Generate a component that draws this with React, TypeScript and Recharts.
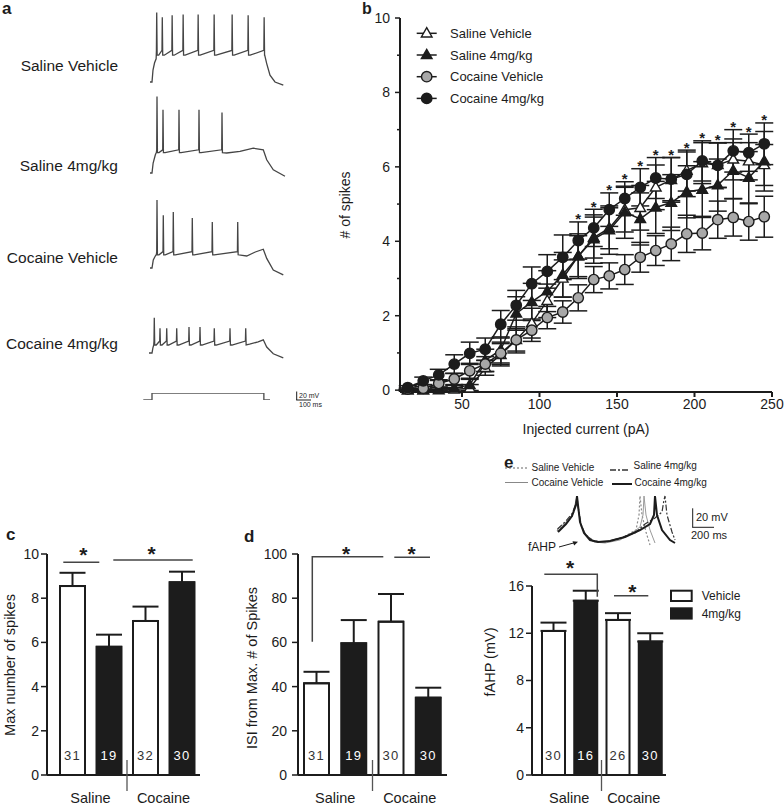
import React from 'react';
import {
  ComposedChart,
  LineChart,
  BarChart,
  Line,
  Bar,
  Cell,
  XAxis,
  YAxis,
  ErrorBar,
  LabelList,
} from 'recharts';

const FONT = '"Liberation Sans", Arial, Helvetica, sans-serif';
const INK = '#1c1c1c';
const GRAY = '#a8a8a8';
const TRACE = '#454545';

// ---------------- Panel b data ----------------
const currents = [15, 25, 35, 45, 55, 65, 75, 85, 95, 105, 115, 125, 135, 145, 155, 165, 175, 185, 195, 205, 215, 225, 235, 245];
const salineVeh = [0, 0, 0, 0.02, 0.05, 0.6, 0.95, 1.35, 1.8, 2.4, 3.0, 3.6, 4.1, 4.35, 4.85, 4.9, 5.45, 5.65, 5.9, 6.1, 6.05, 6.2, 6.15, 6.05];
const salineVehErr = [0.02, 0.02, 0.03, 0.05, 0.1, 0.2, 0.3, 0.35, 0.4, 0.45, 0.5, 0.55, 0.55, 0.55, 0.6, 0.6, 0.6, 0.6, 0.55, 0.55, 0.6, 0.55, 0.5, 0.55];
const saline4 = [0, 0, 0.03, 0.05, 0.14, 0.8, 1.08, 2.06, 2.37, 2.66, 3.1, 3.6, 4.06, 4.3, 4.78, 4.6, 4.91, 5.04, 5.33, 5.39, 5.51, 5.9, 5.71, 6.15];
const saline4Err = [0.02, 0.03, 0.05, 0.08, 0.15, 0.3, 0.35, 0.45, 0.5, 0.55, 0.6, 0.6, 0.65, 0.65, 0.7, 0.7, 0.7, 0.75, 0.7, 0.75, 0.7, 0.75, 0.7, 0.8];
const cocaineVeh = [0.03, 0.05, 0.18, 0.3, 0.52, 0.7, 0.99, 1.35, 1.61, 1.95, 2.1, 2.48, 2.97, 3.07, 3.24, 3.57, 3.75, 3.93, 4.2, 4.22, 4.58, 4.64, 4.53, 4.66];
const cocaineVehErr = [0.03, 0.05, 0.1, 0.15, 0.2, 0.2, 0.3, 0.3, 0.3, 0.3, 0.3, 0.35, 0.35, 0.35, 0.4, 0.4, 0.4, 0.45, 0.5, 0.45, 0.5, 0.5, 0.5, 0.55];
const cocaine4 = [0.07, 0.25, 0.41, 0.7, 0.99, 1.1, 1.77, 2.28, 2.86, 3.19, 3.57, 4.02, 4.36, 4.85, 5.15, 5.45, 5.7, 5.67, 5.8, 6.16, 6.04, 6.43, 6.38, 6.62];
const cocaine4Err = [0.05, 0.1, 0.15, 0.25, 0.3, 0.3, 0.37, 0.4, 0.45, 0.45, 0.6, 0.5, 0.5, 0.45, 0.45, 0.5, 0.55, 0.58, 0.6, 0.54, 0.6, 0.57, 0.5, 0.56];
const starCurrents = [125, 135, 145, 155, 165, 175, 185, 195, 205, 215, 225, 235, 245];
const bTicksY = [0, 1, 2, 3, 4, 5, 6, 7, 8, 9, 10];
const bTicksX = [50, 100, 150, 200, 250];
const seriesNames = ['Saline Vehicle', 'Saline 4mg/kg', 'Cocaine Vehicle', 'Cocaine 4mg/kg'];

// ---------------- Panels c, d, e data ----------------
const groups = ['Saline Vehicle', 'Saline 4mg/kg', 'Cocaine Vehicle', 'Cocaine 4mg/kg'];
const groupLabels = ['Saline', 'Cocaine'];
const maxSpikes = [8.55, 5.8, 6.97, 8.72];
const maxSpikesErr = [0.6, 0.55, 0.65, 0.48];
const maxSpikesN = [31, 19, 32, 30];
const isiValues = [41.5, 59.6, 69.4, 35];
const isiErr = [5.2, 10.5, 12.5, 4.5];
const isiN = [31, 19, 30, 30];
const fahpValues = [12.2, 14.75, 13.13, 11.3];
const fahpErr = [0.7, 0.85, 0.57, 0.7];
const fahpN = [30, 16, 26, 30];
const treatmentLegend = ['Vehicle', '4mg/kg'];

// ---------------- Panel a traces (time ms, voltage mV) ----------------
const t1Head = [[63, -70], [77, -70], [84, -40], [95, -22], [106, -12]];
const t1Spikes = [110, 149, 218, 295, 400, 512, 638, 750, 862];
const t1Peaks = [104, 92, 97, 99, 99, 99, 99, 97, 92];
const t1Trough = -3;
const t1Ramp = 9;
const t1Tail = [[866, -3], [880, -24], [903, -53], [938, -70], [996, -78]];

const t2Head = [[63, -70], [77, -70], [85, -45], [100, -25], [108, -18]];
const t2Spikes = [112, 154, 266, 406, 567];
const t2Peaks = [121, 88, 88, 88, 81];
const t2Trough = -19;
const t2Ramp = -12;
const t2Tail = [[600, -20], [693, -16], [786, -8], [856, -12], [880, -37], [926, -62], [1008, -78]];

const t3Head = [[63, -70], [77, -70], [86, -50], [100, -40], [108, -36]];
const t3Spikes = [112, 156, 226, 359, 499, 677];
const t3Peaks = [100, 62, 70, 55, 45, 45];
const t3Trough = -37;
const t3Ramp = -29;
const t3Tail = [[740, -40], [800, -30], [856, -23], [880, -46], [926, -75], [996, -87]];

const t4Head = [[56, -70], [77, -70], [83, -58], [89, -50]];
const t4Spikes = [93, 133, 180, 250, 336, 413, 513, 623, 733];
const t4Peaks = [18, -8, -8, -8, -5, -5, -8, -8, -8];
const t4Trough = -50;
const t4Ramp = -40;
const t4Tail = [[760, -48], [820, -42], [856, -37], [880, -55], [926, -72], [996, -82]];

const stepCommand = [[16, 0], [77, 0], [77, 1], [860, 1], [860, 0], [903, 0]];

// ---------------- Panel e traces (time ms, voltage mV) ----------------
const eCoc4 = [[30, -54], [110, -46], [170, -38], [210, -27], [220, -18], [230, -27], [250, -44], [290, -55], [350, -62], [430, -64], [550, -63], [700, -59], [850, -52], [950, -46], [990, -37], [1000, -18], [1020, -37], [1070, -52], [1150, -62], [1200, -65]];
const eCocVeh = [[20, -52], [110, -44], [180, -36], [210, -22], [220, -18], [230, -30], [260, -48], [310, -58], [390, -64], [500, -65], [650, -62], [770, -55], [850, -49], [880, -37], [890, -18], [910, -37], [950, -52], [1000, -65]];
const eSalVeh = [[20, -53], [110, -45], [180, -37], [210, -24], [220, -18], [230, -30], [260, -47], [310, -57], [390, -63], [500, -64], [650, -61], [810, -52], [840, -37], [850, -18], [870, -37], [910, -54], [950, -67]];
const eSal4 = [[25, -51], [110, -43], [175, -35], [210, -25], [220, -18], [230, -28], [260, -46], [300, -56], [380, -63], [500, -64], [650, -60], [800, -55], [900, -46], [1000, -40], [1070, -34], [1090, -22], [1100, -18], [1120, -37], [1170, -54], [1200, -62]];

type Pt = { t: number; v: number };
const toPts = (arr: number[][]): Pt[] => arr.map(([t, v]) => ({ t, v }));

function buildTrace(head: number[][], spikes: number[], peaks: number[], trough: number, ramp: number, tail: number[][]): Pt[] {
  const pts: Pt[] = toPts(head);
  spikes.forEach((s, i) => {
    pts.push({ t: s - 2, v: ramp });
    pts.push({ t: s, v: peaks[i] });
    pts.push({ t: s + 3, v: trough });
    const next = spikes[i + 1];
    if (next !== undefined && next - s > 24) pts.push({ t: s + 14, v: trough });
  });
  return pts.concat(toPts(tail));
}

const traces = [
  { label: seriesNames[0], top: 3.7, data: buildTrace(t1Head, t1Spikes, t1Peaks, t1Trough, t1Ramp, t1Tail), labelY: 70.5 },
  { label: seriesNames[1], top: 95.3, data: buildTrace(t2Head, t2Spikes, t2Peaks, t2Trough, t2Ramp, t2Tail), labelY: 170.5 },
  { label: seriesNames[2], top: 190, data: buildTrace(t3Head, t3Spikes, t3Peaks, t3Trough, t3Ramp, t3Tail), labelY: 262.5 },
  { label: seriesNames[3], top: 275, data: buildTrace(t4Head, t4Spikes, t4Peaks, t4Trough, t4Ramp, t4Tail), labelY: 349 },
];

// ---------------- Panel b table ----------------
const bData = currents.map((x, i) => {
  const starred = starCurrents.includes(x);
  const top = Math.max(
    salineVeh[i] + salineVehErr[i],
    saline4[i] + saline4Err[i],
    cocaineVeh[i] + cocaineVehErr[i],
    cocaine4[i] + cocaine4Err[i]
  );
  return {
    x,
    sv: salineVeh[i], svE: salineVehErr[i],
    s4: saline4[i], s4E: saline4Err[i],
    cv: cocaineVeh[i], cvE: cocaineVehErr[i],
    c4: cocaine4[i], c4E: cocaine4Err[i],
    star: starred ? top : null,
  };
});

// ---------------- Shapes ----------------
const triPath = (cx: number, cy: number, s = 5.6) =>
  `M${cx},${cy - s} L${cx + s * 0.95},${cy + s * 0.65} L${cx - s * 0.95},${cy + s * 0.65} Z`;

const makeTri = (fill: string, tag: string) => (p: any) => {
  const { cx, cy, index } = p;
  if (cx == null || cy == null || isNaN(cy)) return <g key={`${tag}${index}`} />;
  return <path key={`${tag}${index}`} d={triPath(cx, cy)} fill={fill} stroke={INK} strokeWidth={1.4} />;
};
const makeCirc = (fill: string, tag: string) => (p: any) => {
  const { cx, cy, index } = p;
  if (cx == null || cy == null || isNaN(cy)) return <g key={`${tag}${index}`} />;
  return <circle key={`${tag}${index}`} cx={cx} cy={cy} r={5.2} fill={fill} stroke={INK} strokeWidth={1.4} />;
};
const starDot = (p: any) => {
  const { cx, cy, index } = p;
  if (cx == null || cy == null || isNaN(cy)) return <g key={`st${index}`} />;
  return (
    <text key={`st${index}`} x={cx} y={cy - 6 + 8.5} textAnchor="middle" fontSize={15} fontWeight="bold" fill={INK}>
      *
    </text>
  );
};

const BYTick = (p: any) => {
  const { x, y, payload } = p;
  const ax = x + 10;
  const v = payload.value;
  const major = v % 2 === 0;
  return (
    <g>
      <line x1={ax - (major ? 5 : 3)} x2={ax} y1={y} y2={y} stroke={INK} strokeWidth={1.5} />
      {major && (
        <text x={x} y={y} dy="0.36em" textAnchor="end" fontSize={14} fill={INK}>
          {v}
        </text>
      )}
    </g>
  );
};

const GroupTick = (p: any) => {
  const { x, y, index, half } = p;
  if (index === 0 || index === 2) {
    return (
      <text x={x + half} y={y + 28} textAnchor="middle" fontSize={14.5} fill={INK}>
        {groupLabels[index / 2]}
      </text>
    );
  }
  if (index === 1) {
    return <line x1={x + half} x2={x + half} y1={y - 15} y2={y + 16} stroke="#555" strokeWidth={1.3} />;
  }
  return <g />;
};

const NLabel = (p: any) => {
  const { x, y, width, height, value, index } = p;
  return (
    <text
      x={Number(x) + Number(width) / 2}
      y={Number(y) + Number(height) - 15}
      textAnchor="middle"
      fontSize={13}
      letterSpacing={1.2}
      fill={index % 2 === 1 ? '#ffffff' : '#333'}
    >
      {value}
    </text>
  );
};

type BarPanelProps = {
  left: number; top: number; width: number; yWidth: number; marginTop: number; marginRight: number;
  padLeft: number; values: number[]; errs: number[]; ns: number[]; domain: number[]; ticks: number[];
  barSize: number; tickMargin: number;
};

function BarPanel(props: BarPanelProps) {
  const { left, top, width, yWidth, marginTop, marginRight, padLeft, values, errs, ns, domain, ticks, barSize, tickMargin } = props;
  const data = groups.map((g, i) => ({ g, v: values[i], e: [0, errs[i]], n: ns[i] }));
  const plotW = width - yWidth - marginRight - padLeft;
  const half = plotW / 8;
  return (
    <div style={{ position: 'absolute', left, top }}>
      <BarChart width={width} height={280} data={data} margin={{ top: marginTop, right: marginRight, bottom: 0, left: 0 }}>
        <XAxis
          dataKey="g"
          height={35}
          padding={{ left: padLeft, right: 0 }}
          axisLine={{ stroke: INK, strokeWidth: 2 }}
          tickLine={false}
          tickSize={0}
          tickMargin={0}
          interval={0}
          tick={(p: any) => <GroupTick {...p} half={half} />}
        />
        <YAxis
          type="number"
          domain={domain}
          ticks={ticks}
          width={yWidth}
          interval={0}
          tickSize={6}
          tickMargin={tickMargin}
          axisLine={{ stroke: INK, strokeWidth: 2 }}
          tickLine={{ stroke: INK, strokeWidth: 1.5 }}
          tick={{ fill: INK, fontSize: 14 }}
        />
        <Bar dataKey="v" barSize={barSize} stroke={INK} strokeWidth={2} isAnimationActive={false}>
          {data.map((d, i) => (
            <Cell key={d.g} fill={i % 2 === 0 ? '#ffffff' : INK} />
          ))}
          <ErrorBar dataKey="e" width={13} stroke={INK} strokeWidth={2} direction="y" />
          <LabelList dataKey="n" content={NLabel} />
        </Bar>
      </BarChart>
    </div>
  );
}

const Star = ({ x, y, size = 21 }: { x: number; y: number; size?: number }) => (
  <text x={x} y={y + size * 0.55} textAnchor="middle" fontSize={size} fontWeight="bold" fill={INK}>
    *
  </text>
);

const VText = ({ x, y, children, size = 14.5 }: any) => (
  <text transform={`translate(${x},${y}) rotate(-90)`} textAnchor="middle" dy="0.36em" fontSize={size} fill={INK}>
    {children}
  </text>
);

export default function App() {
  const sig = '#444';
  return (
    <div
      style={{
        position: 'absolute', left: 0, top: 0, width: 784, height: 808, background: '#fff',
        fontFamily: FONT, overflow: 'hidden',
      }}
    >
      {/* Panel a traces */}
      {traces.map((tr) => (
        <div key={tr.label} style={{ position: 'absolute', left: 141, top: tr.top }}>
          <LineChart width={150} height={88} margin={{ top: 0, right: 0, bottom: 0, left: 0 }}>
            <XAxis type="number" dataKey="t" domain={[0, 1050]} hide />
            <YAxis type="number" domain={[-95, 125]} hide />
            <Line data={tr.data} dataKey="v" stroke={TRACE} strokeWidth={1.3} dot={false} isAnimationActive={false} />
          </LineChart>
        </div>
      ))}
      <div style={{ position: 'absolute', left: 141, top: 393 }}>
        <LineChart width={150} height={7} margin={{ top: 0, right: 0, bottom: 0, left: 0 }}>
          <XAxis type="number" dataKey="t" domain={[0, 1050]} hide />
          <YAxis type="number" domain={[0, 1]} hide />
          <Line data={toPts(stepCommand)} dataKey="v" stroke="#555" strokeWidth={1.4} dot={false} isAnimationActive={false} />
        </LineChart>
      </div>

      {/* Panel b */}
      <div style={{ position: 'absolute', left: 330, top: 0 }}>
        <ComposedChart width={454} height={450} data={bData} margin={{ top: 18, right: 12, bottom: 0, left: 0 }}>
          <XAxis
            type="number"
            dataKey="x"
            domain={[10, 250]}
            ticks={bTicksX}
            interval={0}
            height={58}
            tickSize={5}
            tickMargin={2}
            axisLine={{ stroke: INK, strokeWidth: 2 }}
            tickLine={{ stroke: INK, strokeWidth: 2 }}
            tick={{ fill: INK, fontSize: 14 }}
            label={{ value: 'Injected current (pA)', position: 'insideBottom', offset: 16, fill: INK, fontSize: 14 }}
          />
          <YAxis
            type="number"
            domain={[0, 10]}
            ticks={bTicksY}
            interval={0}
            width={70}
            tickSize={5}
            tickMargin={5}
            tickLine={false}
            axisLine={{ stroke: INK, strokeWidth: 2 }}
            tick={(p: any) => <BYTick {...p} />}
          />
          <Line dataKey="sv" name={seriesNames[0]} stroke={INK} strokeWidth={1.5} dot={makeTri('#ffffff', 'sv')} activeDot={false} isAnimationActive={false}>
            <ErrorBar dataKey="svE" width={9} stroke={INK} strokeWidth={1.5} direction="y" />
          </Line>
          <Line dataKey="s4" name={seriesNames[1]} stroke={INK} strokeWidth={1.5} dot={makeTri(INK, 's4')} activeDot={false} isAnimationActive={false}>
            <ErrorBar dataKey="s4E" width={9} stroke={INK} strokeWidth={1.5} direction="y" />
          </Line>
          <Line dataKey="cv" name={seriesNames[2]} stroke={INK} strokeWidth={1.5} dot={makeCirc(GRAY, 'cv')} activeDot={false} isAnimationActive={false}>
            <ErrorBar dataKey="cvE" width={9} stroke={INK} strokeWidth={1.5} direction="y" />
          </Line>
          <Line dataKey="c4" name={seriesNames[3]} stroke={INK} strokeWidth={1.5} dot={makeCirc(INK, 'c4')} activeDot={false} isAnimationActive={false}>
            <ErrorBar dataKey="c4E" width={9} stroke={INK} strokeWidth={1.5} direction="y" />
          </Line>
          <Line dataKey="star" stroke="none" dot={starDot} activeDot={false} isAnimationActive={false} legendType="none" />
        </ComposedChart>
      </div>

      {/* Panel c */}
      <BarPanel left={0} top={530} width={215} yWidth={47} marginTop={24} marginRight={15} padLeft={7}
        values={maxSpikes} errs={maxSpikesErr} ns={maxSpikesN} domain={[0, 10]} ticks={[0, 2, 4, 6, 8, 10]} barSize={25} tickMargin={2} />
      {/* Panel d */}
      <BarPanel left={250} top={530} width={210} yWidth={48} marginTop={24} marginRight={13} padLeft={0}
        values={isiValues} errs={isiErr} ns={isiN} domain={[0, 100]} ticks={[0, 20, 40, 60, 80, 100]} barSize={25} tickMargin={5} />
      {/* Panel e bars */}
      <BarPanel left={480} top={530} width={200} yWidth={52} marginTop={56} marginRight={14} padLeft={5}
        values={fahpValues} errs={fahpErr} ns={fahpN} domain={[0, 16]} ticks={[0, 4, 8, 12, 16]} barSize={23} tickMargin={2} />

      {/* Panel e traces */}
      <div style={{ position: 'absolute', left: 555, top: 490 }}>
        <LineChart width={140} height={60} margin={{ top: 0, right: 0, bottom: 0, left: 0 }}>
          <XAxis type="number" dataKey="t" domain={[0, 1400]} hide />
          <YAxis type="number" domain={[-72, -12]} hide />
          <Line data={toPts(eSalVeh)} dataKey="v" stroke="#8a8a8a" strokeWidth={1.2} strokeDasharray="2 2" dot={false} isAnimationActive={false} />
          <Line data={toPts(eCocVeh)} dataKey="v" stroke="#9a9a9a" strokeWidth={1} dot={false} isAnimationActive={false} />
          <Line data={toPts(eSal4)} dataKey="v" stroke="#333" strokeWidth={1.2} strokeDasharray="6 2 2 2" dot={false} isAnimationActive={false} />
          <Line data={toPts(eCoc4)} dataKey="v" stroke={INK} strokeWidth={2} dot={false} isAnimationActive={false} />
        </LineChart>
      </div>

      {/* Overlay annotations */}
      <svg width={784} height={808} style={{ position: 'absolute', left: 0, top: 0, pointerEvents: 'none' }} fontFamily={FONT}>
        {/* panel letters */}
        <text x={2} y={14} fontSize={17} fontWeight="bold" fill={INK}>a</text>
        <text x={362} y={14} fontSize={16} fontWeight="bold" fill={INK}>b</text>
        <text x={6} y={540} fontSize={17} fontWeight="bold" fill={INK}>c</text>
        <text x={244} y={542} fontSize={17} fontWeight="bold" fill={INK}>d</text>
        <text x={504} y={468} fontSize={17} fontWeight="bold" fill={INK}>e</text>

        {/* panel a labels */}
        {traces.map((tr) => (
          <text key={tr.label} x={118} y={tr.labelY} textAnchor="end" fontSize={15.5} fill={INK}>{tr.label}</text>
        ))}
        {/* panel a scale bar */}
        <line x1={296.7} x2={296.7} y1={391.5} y2={400} stroke={INK} strokeWidth={1} />
        <line x1={296.2} x2={311} y1={400} y2={400} stroke={INK} strokeWidth={1} />
        <text x={299} y={398} fontSize={7} fill={INK}>20 mV</text>
        <text x={299} y={407} fontSize={7} fill={INK}>100 ms</text>

        {/* panel b y label and legend */}
        <VText x={345} y={205} size={14}># of spikes</VText>
        {[0, 1, 2, 3].map((i) => {
          const y = 33.3 + i * 21.7;
          return (
            <g key={seriesNames[i]}>
              <line x1={416.7} x2={436.7} y1={y} y2={y} stroke={INK} strokeWidth={1.5} />
              {i === 0 && <path d={triPath(426.7, y)} fill="#fff" stroke={INK} strokeWidth={1.4} />}
              {i === 1 && <path d={triPath(426.7, y)} fill={INK} stroke={INK} strokeWidth={1.4} />}
              {i === 2 && <circle cx={426.7} cy={y} r={5.2} fill={GRAY} stroke={INK} strokeWidth={1.4} />}
              {i === 3 && <circle cx={426.7} cy={y} r={5.2} fill={INK} stroke={INK} strokeWidth={1.4} />}
              <text x={450} y={y} dy="0.36em" fontSize={13} fill={INK}>{seriesNames[i]}</text>
            </g>
          );
        })}

        {/* y labels c, d, e */}
        <VText x={10} y={665}>Max number of spikes</VText>
        <VText x={252} y={668}>ISI from Max. # of Spikes</VText>
        <VText x={490} y={662}>fAHP (mV)</VText>

        {/* significance c */}
        <line x1={63.3} x2={99.3} y1={562.3} y2={562.3} stroke={sig} strokeWidth={1.5} />
        <Star x={83.3} y={550} />
        <line x1={113.3} x2={192.7} y1={560} y2={560} stroke={sig} strokeWidth={1.5} />
        <Star x={151.7} y={549} />
        {/* significance d */}
        <polyline points="312.3,641.7 312.3,556.7 383.3,556.7" fill="none" stroke={sig} strokeWidth={1.5} />
        <Star x={346} y={549} />
        <line x1={394.3} x2={430} y1={557.3} y2={557.3} stroke={sig} strokeWidth={1.5} />
        <Star x={411.7} y={549} />
        {/* significance e */}
        <polyline points="544.3,574.3 597.3,574.3 597.3,596.7" fill="none" stroke={sig} strokeWidth={1.5} />
        <Star x={570} y={563} />
        <line x1={614} x2={648.3} y1={595.7} y2={595.7} stroke={sig} strokeWidth={1.5} />
        <Star x={632.3} y={587} />

        {/* e bar legend */}
        <rect x={671} y={590.7} width={20.7} height={10.3} fill="#fff" stroke={INK} strokeWidth={2} />
        <text x={701.7} y={596} dy="0.36em" fontSize={12} fill={INK}>{treatmentLegend[0]}</text>
        <rect x={671} y={608.3} width={20.7} height={10.3} fill={INK} stroke={INK} strokeWidth={2} />
        <text x={701.7} y={613.5} dy="0.36em" fontSize={12} fill={INK}>{treatmentLegend[1]}</text>

        {/* e trace legend */}
        <line x1={505} x2={528} y1={468} y2={468} stroke="#666" strokeWidth={1.2} strokeDasharray="2 2" />
        <text x={531.5} y={467.5} dy="0.36em" fontSize={10} fill={INK}>{seriesNames[0]}</text>
        <line x1={505} x2={528} y1={482.5} y2={482.5} stroke="#888" strokeWidth={1} />
        <text x={531.5} y={482.3} dy="0.36em" fontSize={10} fill={INK}>{seriesNames[2]}</text>
        <line x1={610} x2={630} y1={470} y2={470} stroke="#333" strokeWidth={1.4} strokeDasharray="6 2 2 2" />
        <text x={633.5} y={465} dy="0.36em" fontSize={10} fill={INK}>{seriesNames[1]}</text>
        <line x1={612} x2={632} y1={484} y2={484} stroke={INK} strokeWidth={2} />
        <text x={634.5} y={482.5} dy="0.36em" fontSize={10} fill={INK}>{seriesNames[3]}</text>

        {/* e scale bar */}
        <line x1={692.7} x2={692.7} y1={508.3} y2={527.3} stroke={INK} strokeWidth={1} />
        <line x1={692.2} x2={714} y1={527.3} y2={527.3} stroke={INK} strokeWidth={1} />
        <text x={696} y={517} dy="0.36em" fontSize={11} fill={INK}>20 mV</text>
        <text x={691} y={535.5} dy="0.36em" fontSize={11} fill={INK}>200 ms</text>

        {/* fAHP arrow */}
        <text x={528} y={547} dy="0.36em" fontSize={12} fill={INK}>fAHP</text>
        <line x1={559} x2={575} y1={547} y2={542.6} stroke={INK} strokeWidth={1} />
        <path d="M578,541.8 L572.5,541.2 L574.2,545.4 Z" fill={INK} />
      </svg>
    </div>
  );
}
